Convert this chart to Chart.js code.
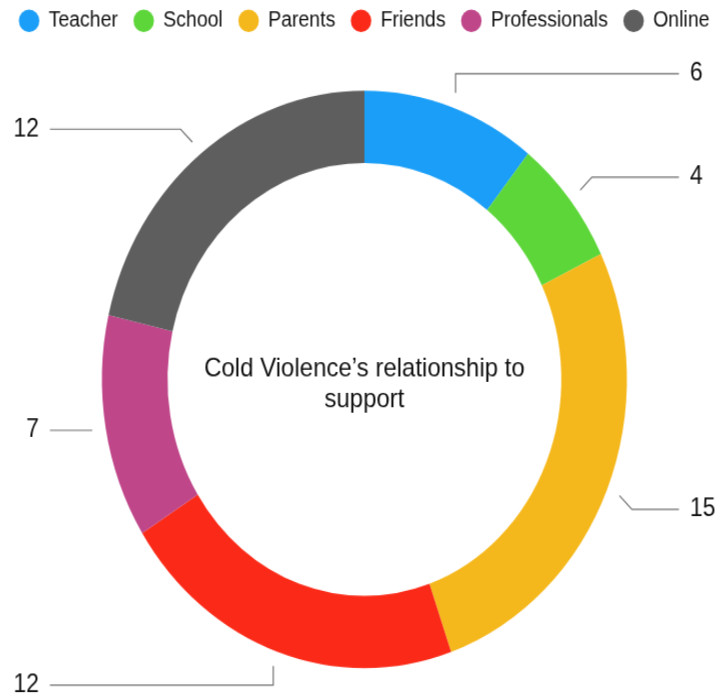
<!DOCTYPE html>
<html>
<head>
<meta charset="utf-8">
<title>Cold Violence’s relationship to support</title>
<script src="https://cdn.jsdelivr.net/npm/chart.js@4/dist/chart.umd.min.js"></script>
<style>
  html { margin: 0; padding: 0; overflow: hidden; background: #ffffff; }
  body { margin: 0; padding: 0; width: 718px; height: 695px; overflow: hidden; background: #ffffff; }
  /* the drawing is shown slightly taller than it is wide */
  #wrap {
    width: 740px;
    height: 660px;
    transform-origin: 0 0;
    transform: scaleY(1.1) translate(-5.6px, -6.85px);
  }
</style>
</head>
<body>
<div id="wrap"><canvas id="chart" width="740" height="660"></canvas></div>
<script>
// ---- data ----
const categories = ['Teacher', 'School', 'Parents', 'Friends', 'Professionals', 'Online'];
const counts = [6, 4, 15, 12, 7, 12];
const sliceColors = ['#1a9ef7', '#5dd63a', '#f5b81c', '#fb2a18', '#c0468a', '#5e5e5e'];
const centerTitle = ['Cold Violence’s relationship to', 'support'];

const FONT = '"Liberation Sans", Arial, Helvetica, sans-serif';

// Caption in the hole of the ring
const centerTextPlugin = {
  id: 'centerText',
  afterDatasetsDraw(chart) {
    const arc = chart.getDatasetMeta(0).data[0];
    if (!arc) return;
    const { ctx } = chart;
    ctx.save();
    ctx.fillStyle = '#111111';
    ctx.font = '24px ' + FONT;
    ctx.textAlign = 'center';
    ctx.textBaseline = 'alphabetic';
    ctx.fillText(centerTitle[0], arc.x, arc.y - 2.4);
    ctx.fillText(centerTitle[1], arc.x, arc.y + 24.8);
    ctx.restore();
  }
};

// Leader lines with the value of each slice
const calloutPlugin = {
  id: 'callouts',
  afterDatasetsDraw(chart) {
    const { ctx } = chart;
    const values = chart.data.datasets[0].data;
    const arcs = chart.getDatasetMeta(0).data;
    ctx.save();
    ctx.strokeStyle = '#707070';
    ctx.lineWidth = 1.2;
    ctx.fillStyle = '#111111';
    ctx.font = '23px ' + FONT;
    ctx.textBaseline = 'middle';
    arcs.forEach((arc, i) => {
      const { x, y, startAngle, endAngle, outerRadius } =
        arc.getProps(['x', 'y', 'startAngle', 'endAngle', 'outerRadius'], true);
      const mid = (startAngle + endAngle) / 2;
      const r1 = outerRadius + 13.5;   // where the leader starts
      const r2 = outerRadius + 30;     // where it bends
      const sx = Math.cos(mid) * r1;
      const sy = Math.sin(mid) * r1;
      // first segment follows the slice direction snapped to 45° steps
      const step = Math.PI / 4;
      const fromTop = mid + Math.PI / 2;
      const snapped = Math.round(fromTop / step + 1e-6) * step;
      const dx = Math.sin(snapped);
      const dy = -Math.cos(snapped);
      const dot = sx * dx + sy * dy;
      const t = -dot + Math.sqrt(dot * dot - (sx * sx + sy * sy) + r2 * r2);
      const ex = sx + dx * t;
      const ey = sy + dy * t;
      const right = ex >= 0;
      const endX = right ? 314.5 : -314.5;

      ctx.beginPath();
      ctx.moveTo(x + sx, y + sy);
      ctx.lineTo(x + ex, y + ey);
      ctx.lineTo(x + endX, y + ey);
      ctx.stroke();

      ctx.textAlign = right ? 'left' : 'right';
      ctx.fillText(String(values[i]), x + endX + (right ? 11 : -11), y + ey);
    });
    ctx.restore();
  }
};

new Chart(document.getElementById('chart'), {
  type: 'doughnut',
  data: {
    labels: categories,
    datasets: [{
      data: counts,
      backgroundColor: sliceColors,
      borderWidth: 0,
      radius: 262.5,
      cutout: '75%'
    }]
  },
  options: {
    responsive: false,
    animation: false,
    layout: { padding: { left: 0, right: 0, top: 0, bottom: 2 } },
    plugins: {
      legend: {
        position: 'top',
        labels: {
          usePointStyle: true,
          pointStyle: 'circle',
          boxWidth: 20,
          boxHeight: 14.5,
          padding: 16,
          color: '#111111',
          font: { family: FONT, size: 19.5 }
        }
      },
      tooltip: { enabled: false },
      title: { display: false }
    }
  },
  plugins: [centerTextPlugin, calloutPlugin]
});
</script>
</body>
</html>
